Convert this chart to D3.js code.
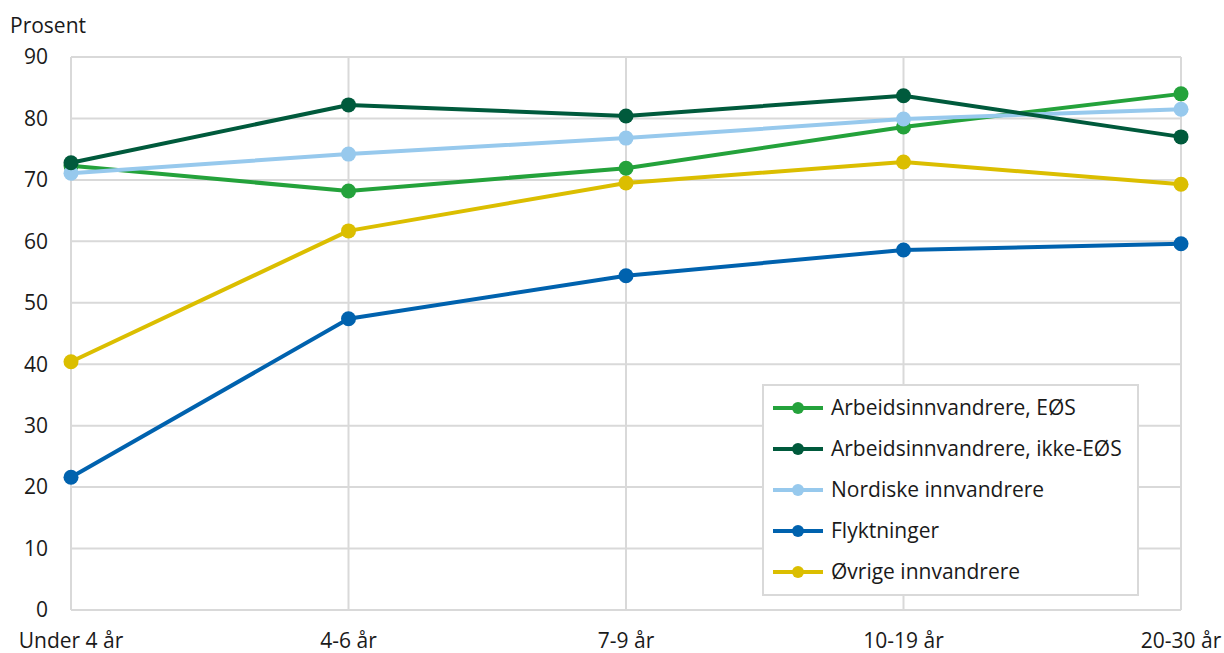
<!DOCTYPE html>
<html><head><meta charset="utf-8">
<script src="https://cdn.jsdelivr.net/npm/d3@7"></script>
<style>body{margin:0;background:#fff}svg{display:block;font-family:"Open Sans",sans-serif}</style>
</head><body><svg id="c" width="1224" height="653"></svg>
<script>
const categories = ["Under 4 år","4-6 år","7-9 år","10-19 år","20-30 år"];
const seriesNames = ["Arbeidsinnvandrere, EØS","Arbeidsinnvandrere, ikke-EØS","Nordiske innvandrere","Flyktninger","Øvrige innvandrere"];
const eos = [72.3,68.2,71.9,78.6,84.0];
const ikkeEos = [72.8,82.2,80.4,83.7,77.0];
const nordiske = [71.1,74.2,76.8,79.9,81.5];
const flyktninger = [21.6,47.4,54.4,58.6,59.6];
const ovrige = [40.4,61.7,69.5,72.9,69.3];
const yTicks = [0,10,20,30,40,50,60,70,80,90];
const colors = ["#24a23b","#005a3c","#97c9ed","#0062ae","#dbbe00"];
const drawOrder = [3,4,0,2,1];
const values = [eos,ikkeEos,nordiske,flyktninger,ovrige];

const svg = d3.select("#c");
const x = d3.scalePoint().domain(categories).range([71,1181]);
const y = d3.scaleLinear().domain([0,90]).range([610,57]);
const grid = "#d9d9d9";
const fs = 21;

svg.append("g").selectAll("line").data(yTicks).join("line")
  .attr("x1",71).attr("x2",1181).attr("y1",d=>y(d)).attr("y2",d=>y(d))
  .attr("stroke",grid).attr("stroke-width",2);
svg.append("g").selectAll("line").data(categories).join("line")
  .attr("x1",d=>x(d)).attr("x2",d=>x(d)).attr("y1",y(90)).attr("y2",y(0))
  .attr("stroke",grid).attr("stroke-width",2);

svg.append("g").selectAll("text").data(yTicks).join("text")
  .attr("x",48).attr("y",d=>y(d)).attr("dy","0.35em").attr("text-anchor","end")
  .attr("font-size",fs).attr("fill","#1a1a1a").text(d=>d);
svg.append("text").attr("x",10).attr("y",33).attr("font-size",fs).attr("fill","#1a1a1a").text("Prosent");
svg.append("g").selectAll("text").data(categories).join("text")
  .attr("x",d=>x(d)).attr("y",648)
  .attr("text-anchor","middle")
  .attr("font-size",fs).attr("fill","#1a1a1a").text(d=>d);

const line = d3.line().x((d,i)=>x(categories[i])).y(d=>y(d));
drawOrder.forEach(k=>{
  const g = svg.append("g");
  g.append("path").datum(values[k]).attr("d",line).attr("fill","none")
    .attr("stroke",colors[k]).attr("stroke-width",4).attr("stroke-linejoin","round");
  g.selectAll("circle").data(values[k]).join("circle")
    .attr("cx",(d,i)=>x(categories[i])).attr("cy",d=>y(d)).attr("r",7.5).attr("fill",colors[k]);
});

const lg = svg.append("g");
lg.append("rect").attr("x",763).attr("y",385).attr("width",375).attr("height",210)
  .attr("fill","#fff").attr("stroke",grid).attr("stroke-width",2);
seriesNames.forEach((n,k)=>{
  const yy = 408 + k*41;
  lg.append("line").attr("x1",773).attr("x2",823).attr("y1",yy).attr("y2",yy)
    .attr("stroke",colors[k]).attr("stroke-width",4);
  lg.append("circle").attr("cx",798).attr("cy",yy).attr("r",6).attr("fill",colors[k]);
  lg.append("text").attr("x",831).attr("y",yy).attr("dy","0.35em").attr("font-size",fs)
    .attr("fill","#1a1a1a").text(n);
});
</script></body></html>
